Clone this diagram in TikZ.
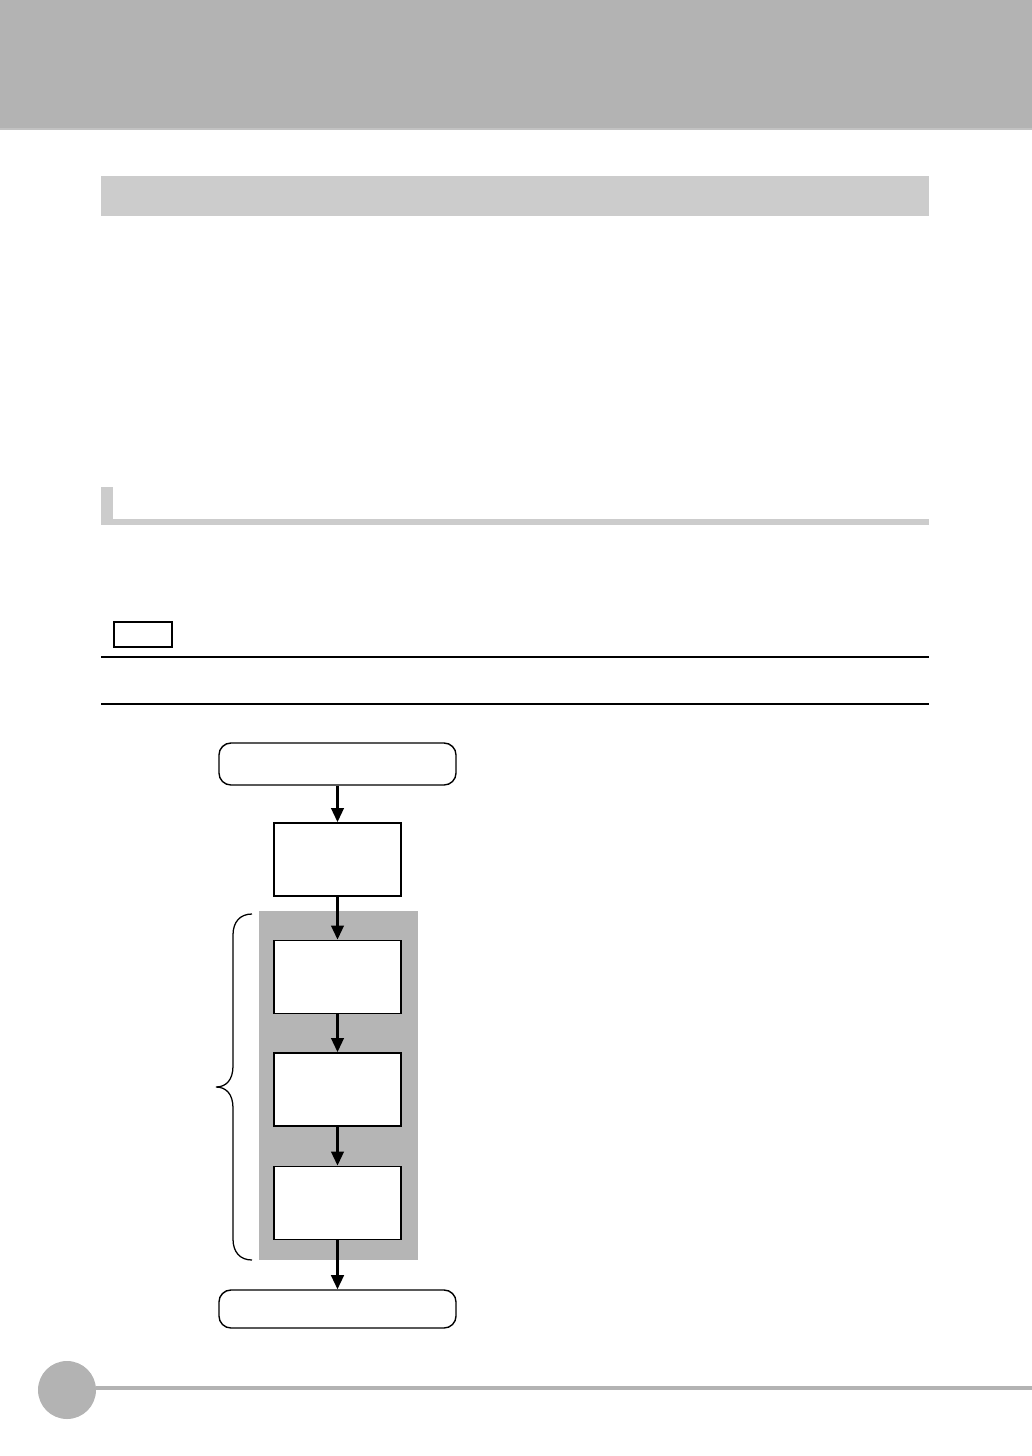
\documentclass[tikz,border=0pt]{standalone}
\usepackage{color}
\usepackage{tikz}
\definecolor{bandgray}{rgb}{0.702,0.702,0.702}
\definecolor{bargray}{rgb}{0.800,0.800,0.800}
\definecolor{panelgray}{rgb}{0.710,0.710,0.710}
\usetikzlibrary{arrows.meta}
\usetikzlibrary{positioning}

\tikzset{
  stepbox/.style={draw,line width=1.3pt,fill=white,minimum width=3.175cm,minimum height=1.825cm,inner sep=0pt},
  endbox/.style={draw,line width=1pt,fill=white,rounded corners=0.3cm,minimum width=5.925cm,inner sep=0pt},
  flow/.style={line width=1.6pt,-{Triangle[width=9pt,length=10pt]}}
}

\begin{document}
\begin{tikzpicture}[x=0.025cm,y=-0.025cm]

           \useasboundingbox (0,0) rectangle (1032,1456);

           % page header and headings
           \fill [bandgray] (0,0) rectangle (1032,130);
           \draw [bandgray!80,line width=1pt] (0,129) -- (1032,129);
           \fill [bargray] (101,176) rectangle (929,216);
           \fill [bargray] (101,487) rectangle (113,525);
           \fill [bargray] (101,519) rectangle (929,525);

           \node [draw,line width=0.8pt,minimum width=1.45cm,minimum height=0.625cm,inner sep=0pt] (tag) at (143,634.5) {};
           \draw [line width=1pt] (101,657) -- (929,657);
           \draw [line width=1pt] (101,704) -- (929,704);

           % repeated part
           \fill [panelgray] (259,911) rectangle (418,1260);

           \node [endbox,minimum height=1.05cm] (start) at (337.5,764) {};
           \node [stepbox] (prep) at (337.5,859.5) {};
           \node [stepbox] (stepa) at (337.5,977) {};
           \node [stepbox] (stepb) at (337.5,1089.5) {};
           \node [stepbox] (stepc) at (337.5,1203) {};
           \node [endbox,minimum height=0.95cm] (stop) at (337.5,1309) {};

           \draw [flow] (start) -- (prep);
           \draw [flow] (prep) -- (stepa);
           \draw [flow] (stepa) -- (stepb);
           \draw [flow] (stepb) -- (stepc);
           \draw [flow] (stepc) -- (stop);

           \draw [line width=0.9pt] (252,914) .. controls (240,914) and (233,922) .. (233,935) -- (233,1066)
                 .. controls (233,1080) and (226,1087) .. (216,1087)
                 .. controls (226,1087) and (233,1094) .. (233,1108) -- (233,1239)
                 .. controls (233,1252) and (240,1260) .. (252,1260);

           % page number mark
           \draw [bandgray,line width=2.2pt] (96,1388) -- (1032,1388);
           \fill [bandgray] (67,1390) ellipse (29 and 29);

\end{tikzpicture}
\end{document}
